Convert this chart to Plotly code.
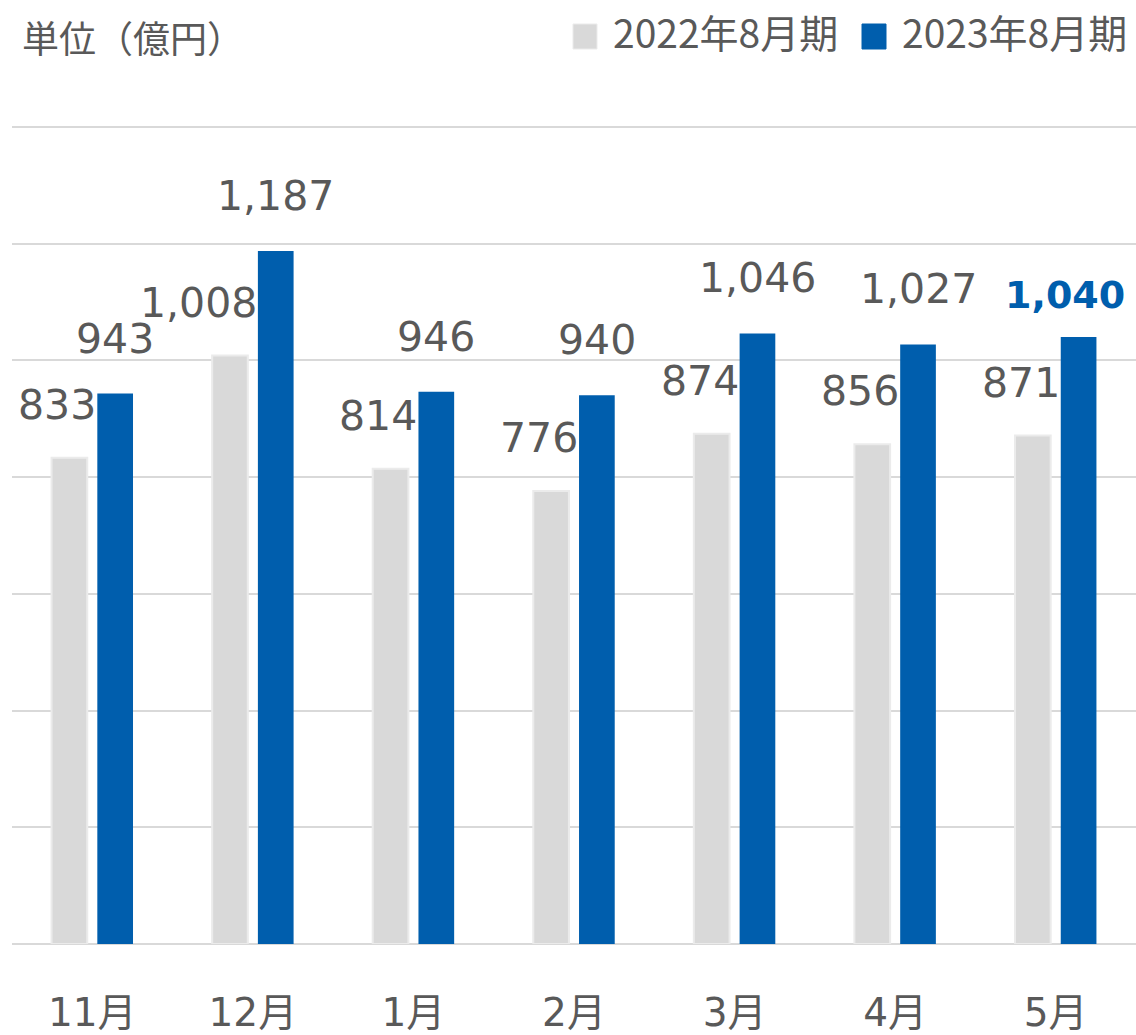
import plotly.graph_objects as go

months = ["11月", "12月", "1月", "2月", "3月", "4月", "5月"]
fy2022 = [833, 1008, 814, 776, 874, 856, 871]
fy2023 = [943, 1187, 946, 940, 1046, 1027, 1040]
series_names = ["2022年8月期", "2023年8月期"]
unit_title = "単位（億円）"

GRAY = "#D9D9D9"
BLUE = "#005EAD"
TEXT = "#595959"
NUM_FONT = "DejaVu Sans"
JP_FONT = "Noto Sans CJK JP"

W, H = 1136, 1035
ML, MR, MT, MB = 12, 0, 125, 91
PW, PH = W - ML - MR, H - MT - MB


def px_x(px):
    return (px - ML) / PW


def px_y(py):
    return (H - MB - py) / PH


fig = go.Figure()
fig.add_trace(go.Bar(x=months, y=fy2022, name=series_names[0],
                     marker=dict(color=GRAY, line=dict(color="#EBEBEB", width=2)), showlegend=False))
fig.add_trace(go.Bar(x=months, y=fy2023, name=series_names[1],
                     marker=dict(color=BLUE, line=dict(width=0)), showlegend=False))

annotations = []
for m, v in zip(months, fy2022):
    annotations.append(dict(x=m, y=v, xref="x", yref="y", text=f"{v:,}", showarrow=False,
                            xanchor="right", yanchor="middle", xshift=6, yshift=53,
                            font=dict(family=NUM_FONT, size=41, color=TEXT)))
for i, (m, v) in enumerate(zip(months, fy2023)):
    last = i == len(months) - 1
    annotations.append(dict(x=m, y=v, xref="x", yref="y",
                            text=(f"<b>{v:,}</b>" if last else f"{v:,}"),
                            showarrow=False, xanchor="center", yanchor="middle",
                            xshift=(9 if last else 23), yshift=(42 if last else 55),
                            font=dict(family=NUM_FONT, size=(38 if last else 41),
                                      color=(BLUE if last else TEXT))))

# unit title
annotations.append(dict(x=px_x(20), y=px_y(37), xref="paper", yref="paper", text=unit_title,
                        showarrow=False, xanchor="left", yanchor="middle",
                        font=dict(family=JP_FONT, size=37, color=TEXT)))

# manual legend
shapes = []
legend_items = [(series_names[0], GRAY, "#EBEBEB", 573, 611),
                (series_names[1], BLUE, BLUE, 862, 900)]
for name, col, edge, sq_x, tx in legend_items:
    shapes.append(dict(type="rect", xref="paper", yref="paper",
                       x0=px_x(sq_x), x1=px_x(sq_x + 24), y0=px_y(49), y1=px_y(24),
                       fillcolor=col, line=dict(color=edge, width=1)))
    annotations.append(dict(x=px_x(tx), y=px_y(31), xref="paper", yref="paper", text=name,
                            showarrow=False, xanchor="left", yanchor="middle",
                            font=dict(family=JP_FONT, size=39, color=TEXT)))

fig.update_layout(
    width=W, height=H,
    margin=dict(l=ML, r=MR, t=MT, b=MB, autoexpand=False),
    paper_bgcolor="white", plot_bgcolor="white",
    barmode="group", bargap=0.43, bargroupgap=0.22,
    showlegend=False,
    xaxis=dict(tickfont=dict(family=NUM_FONT + ", " + JP_FONT, size=39, color=TEXT),
               showline=False, ticks="", ticklabelstandoff=42, automargin=False),
    yaxis=dict(range=[0, 1403], dtick=200, showticklabels=False, showgrid=True,
               gridcolor="#D9D9D9", gridwidth=2, zeroline=True, zerolinecolor="#D9D9D9",
               zerolinewidth=2, automargin=False),
    annotations=annotations,
    shapes=shapes,
)

fig.write_html("out.html", config={"displayModeBar": False},
               post_script="document.body.style.margin='0';document.body.style.overflow='hidden';")
